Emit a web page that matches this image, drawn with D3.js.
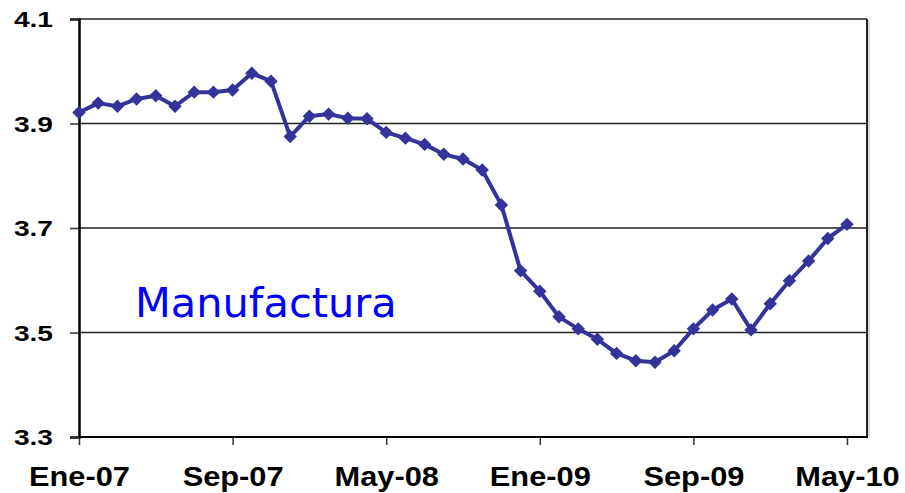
<!DOCTYPE html>
<html>
<head>
<meta charset="utf-8">
<script src="https://cdn.jsdelivr.net/npm/d3@7"></script>
<style>
  body { margin: 0; background: #fff; }
  svg { display: block; }
</style>
</head>
<body>
<div id="chart"></div>
<script>
// monthly series, Ene-07 .. May-10
const months = ['Ene', 'Feb', 'Mar', 'Abr', 'May', 'Jun', 'Jul', 'Ago', 'Sep', 'Oct', 'Nov', 'Dic'];
const categories = d3.range(41).map(i => `${months[i % 12]}-${String(7 + Math.floor(i / 12)).padStart(2, '0')}`);
const values = [
    3.921, 3.939, 3.933, 3.947, 3.953, 3.933, 3.960, 3.960, 3.964, 3.996,
    3.981, 3.875, 3.914, 3.918, 3.910, 3.909, 3.883, 3.872, 3.860, 3.841,
    3.832, 3.811, 3.744, 3.618, 3.579, 3.530, 3.507, 3.487, 3.460, 3.446,
    3.443, 3.465, 3.507, 3.543, 3.564, 3.505, 3.555, 3.599, 3.637, 3.680,
    3.707
];
const yTicks = [3.3, 3.5, 3.7, 3.9, 4.1];
const xTickLabels = ['Ene-07', 'Sep-07', 'May-08', 'Ene-09', 'Sep-09', 'May-10'];
const seriesLabel = 'Manufactura';

const margin = { top: 19, right: 38, bottom: 56, left: 79 };
const width = 905 - margin.left - margin.right;
const height = 493 - margin.top - margin.bottom;

const svg = d3.select('#chart')
    .append('svg')
    .attr('width', 905)
    .attr('height', 493);

const g = svg.append('g')
    .attr('transform', `translate(${margin.left},${margin.top})`);

const xScale = d3.scaleLinear()
    .domain([0, categories.length - 1])
    .range([0, 768]);

const yScale = d3.scaleLinear()
    .domain([3.3, 4.1])
    .range([height, 0]);

// gridlines
g.selectAll('.grid')
    .data(yTicks.slice(1))
    .enter().append('line')
    .attr('x1', 0)
    .attr('x2', width)
    .attr('y1', d => yScale(d))
    .attr('y2', d => yScale(d))
    .style('stroke', '#222')
    .style('stroke-width', 1.5);

// right frame
g.append('line')
    .attr('x1', width).attr('x2', width)
    .attr('y1', 0).attr('y2', height)
    .style('stroke', '#222')
    .style('stroke-width', 2);
g.append('line')
    .attr('x1', width + 2).attr('x2', width + 2)
    .attr('y1', 1).attr('y2', height)
    .style('stroke', '#ccc')
    .style('stroke-width', 1.5);

// y axis (labels stretched horizontally like the original)
const yStretch = 1.28;
const yAxis = g.append('g')
    .call(d3.axisLeft(yScale).tickValues(yTicks).tickSize(9).tickFormat(d3.format('.1f')));
yAxis.select('.domain').style('stroke', '#000').style('stroke-width', 2.5);
yAxis.selectAll('.tick line').style('stroke', '#333').style('stroke-width', 1.5);
yAxis.selectAll('.tick text')
    .attr('x', -26 / yStretch)
    .attr('dy', '0.36em')
    .style('font-family', '"Liberation Sans", Arial, sans-serif')
    .style('font-weight', 'bold')
    .style('font-size', '22px')
    .style('fill', '#000')
    .attr('transform', `scale(${yStretch},1)`);

// x axis
const tickIdx = xTickLabels.map(l => categories.indexOf(l));
const xAxis = g.append('g')
    .attr('transform', `translate(0,${height})`)
    .call(d3.axisBottom(xScale).tickValues(tickIdx).tickSize(8).tickFormat(i => categories[i]));
xAxis.select('.domain').remove();
xAxis.append('line')
    .attr('x1', 0).attr('x2', width + 1)
    .style('stroke', '#000')
    .style('stroke-width', 2);
xAxis.selectAll('.tick line').style('stroke', '#333').style('stroke-width', 1.5);
xAxis.selectAll('.tick text')
    .attr('y', 49)
    .attr('dy', 0)
    .style('font-family', '"Liberation Sans", Arial, sans-serif')
    .style('font-weight', 'bold')
    .style('font-size', '28px')
    .style('fill', '#000')
    .attr('transform', 'scale(1.1,1)');

// line
const line = d3.line()
    .x((d, i) => xScale(i))
    .y(d => yScale(d));

g.append('path')
    .datum(values)
    .attr('d', line)
    .style('fill', 'none')
    .style('stroke', '#333399')
    .style('stroke-width', 4)
    .style('stroke-linejoin', 'round');

g.selectAll('.marker')
    .data(values)
    .enter().append('path')
    .attr('d', d3.symbol().type(d3.symbolDiamond2).size(115))
    .attr('transform', (d, i) => `translate(${xScale(i)},${yScale(d)})`)
    .style('fill', '#333399');

// series label
g.append('text')
    .attr('x', 135 - margin.left)
    .attr('y', 317 - margin.top)
    .style('font-family', '"DejaVu Sans", Verdana, sans-serif')
    .style('font-size', '41.5px')
    .style('fill', '#0000ff')
    .text(seriesLabel);
</script>
</body>
</html>
